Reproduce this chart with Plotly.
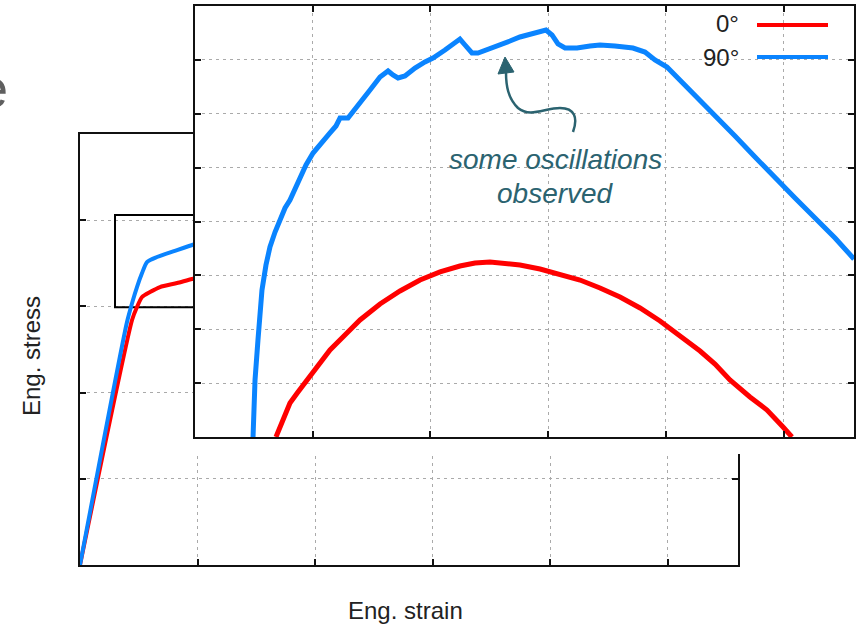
import plotly.graph_objects as go

W, H = 858, 627

# ---------------- data ----------------
# main plot (full curves, arbitrary units)
main_x_blue = [0, 0.400, 0.451, 0.485, 0.528, 0.570, 0.655, 0.826, 0.979, 1.149]
main_y_blue = [0, 2.819, 3.074, 3.225, 3.387, 3.515, 3.573, 3.654, 3.724, 3.794]
main_x_red = [0, 0.443, 0.485, 0.528, 0.596, 0.681, 0.826, 0.953, 1.149]
main_y_red = [0, 2.842, 2.993, 3.109, 3.167, 3.225, 3.271, 3.318, 3.376]

# inset (zoomed region)
inset_x_blue = [0.493, 0.501, 0.510, 0.535, 0.569, 0.603, 0.637, 0.680, 0.722, 0.765,
                0.807, 0.850, 0.892, 0.943, 1.003, 1.062, 1.147, 1.198, 1.232, 1.300,
                1.342, 1.402, 1.487, 1.572, 1.640, 1.682, 1.725, 1.784, 1.869, 1.954,
                2.022, 2.124, 2.209, 2.251, 2.294, 2.353, 2.404, 2.506, 2.591, 2.676,
                2.761, 2.846, 2.931, 2.982, 3.033, 3.084, 3.144, 3.246, 3.356, 3.441,
                3.568, 3.721, 3.823, 3.908, 4.010, 4.146, 4.291, 4.435, 4.588, 4.758,
                4.928, 5.098, 5.268, 5.438, 5.599]
inset_y_blue = [0.000, 0.687, 1.058, 1.800, 2.729, 3.193, 3.527, 3.805, 4.028, 4.251,
                4.399, 4.622, 4.826, 5.049, 5.271, 5.439, 5.643, 5.773, 5.921, 5.921,
                6.032, 6.200, 6.441, 6.682, 6.794, 6.719, 6.664, 6.701, 6.849, 6.961,
                7.035, 7.183, 7.313, 7.387, 7.276, 7.128, 7.128, 7.220, 7.276, 7.350,
                7.425, 7.480, 7.536, 7.555, 7.462, 7.295, 7.220, 7.220, 7.258, 7.276,
                7.258, 7.220, 7.146, 6.998, 6.868, 6.571, 6.255, 5.940, 5.587, 5.197,
                4.807, 4.436, 4.065, 3.694, 3.304]
inset_x_red = [0.688, 0.722, 0.765, 0.807, 0.875, 0.952, 1.045, 1.147, 1.274, 1.402,
               1.572, 1.742, 1.912, 2.082, 2.251, 2.379, 2.506, 2.634, 2.761, 2.931,
               3.101, 3.271, 3.441, 3.611, 3.781, 3.951, 4.121, 4.291, 4.418, 4.545,
               4.715, 4.860, 4.996, 5.072]
inset_y_red = [0.000, 0.186, 0.408, 0.631, 0.835, 1.058, 1.336, 1.615, 1.893, 2.172,
               2.469, 2.710, 2.914, 3.063, 3.174, 3.230, 3.248, 3.230, 3.193, 3.118,
               3.026, 2.914, 2.766, 2.599, 2.394, 2.153, 1.875, 1.596, 1.355, 1.058,
               0.742, 0.501, 0.186, 0.000]

series_names = ["0°", "90°"]
x_title = "Eng. strain"
y_title = "Eng. stress"
note_lines = ["some oscillations", "observed"]

RED = "#FF0000"
BLUE = "#0A84FF"
TEAL = "#2B6370"
FONT = "Liberation Sans, Arial, sans-serif"


def px(x):
    return x / W


def py(y):
    return 1 - y / H


fig = go.Figure()

fig.add_trace(go.Scatter(x=main_x_red, y=main_y_red, mode="lines",
                         line=dict(color=RED, width=4, shape="spline", smoothing=0.6),
                         xaxis="x", yaxis="y", showlegend=False))
fig.add_trace(go.Scatter(x=main_x_blue, y=main_y_blue, mode="lines",
                         line=dict(color=BLUE, width=4, shape="spline", smoothing=0.6),
                         xaxis="x", yaxis="y", showlegend=False))
fig.add_trace(go.Scatter(x=inset_x_red, y=inset_y_red, mode="lines",
                         line=dict(color=RED, width=5), xaxis="x2", yaxis="y2",
                         name=series_names[0], showlegend=False))
fig.add_trace(go.Scatter(x=inset_x_blue, y=inset_y_blue, mode="lines",
                         line=dict(color=BLUE, width=5), xaxis="x2", yaxis="y2",
                         name=series_names[1], showlegend=False))

grid = dict(showgrid=True, gridcolor="#AAAAAA", gridwidth=1, griddash="3px,4px",
            showline=True, linecolor="#111111", linewidth=1.5, mirror="allticks",
            ticks="inside", ticklen=6, tickwidth=1.5, tickcolor="#111111",
            showticklabels=False, zeroline=False, dtick=1, tick0=0)

fig.update_layout(
    width=W, height=H,
    margin=dict(l=0, r=0, t=0, b=0),
    paper_bgcolor="white", plot_bgcolor="white",
    xaxis=dict(domain=[px(80), px(738)], range=[0, 5.6], **grid, anchor="y"),
    yaxis=dict(domain=[py(565), py(134)], range=[0, 5], **grid, anchor="x"),
    xaxis2=dict(domain=[px(195), px(854)], range=[0, 5.599], **grid, anchor="y2"),
    yaxis2=dict(domain=[py(437), py(6)], range=[0, 8], **grid, anchor="x2"),
    showlegend=False,
)

shapes = []
# zoom box in main plot
shapes.append(dict(type="rect", xref="x", yref="y", x0=0.298, x1=1.3, y0=2.99, y1=4.06,
                   line=dict(color="black", width=2), fillcolor="rgba(0,0,0,0)",
                   layer="between"))
# white margin under inset
shapes.append(dict(type="rect", xref="paper", yref="paper", x0=px(196), x1=px(745),
                   y0=py(454), y1=py(439), line=dict(width=0), fillcolor="white",
                   layer="above"))
# legend lines
shapes.append(dict(type="line", xref="paper", yref="paper", x0=px(757), x1=px(828),
                   y0=py(25), y1=py(25), line=dict(color=RED, width=4)))
shapes.append(dict(type="line", xref="paper", yref="paper", x0=px(757), x1=px(828),
                   y0=py(57), y1=py(57), line=dict(color=BLUE, width=4)))


def path_from(cmds):
    out = []
    for c in cmds:
        if isinstance(c, str):
            out.append(c)
        else:
            out.append(f"{px(c[0]):.5f},{py(c[1]):.5f}")
    return " ".join(out)


arrow_path = path_from(["M", (573, 132), "C", (578, 118), (575, 108), (560, 108),
                        "C", (545, 108), (530, 118), (518, 108),
                        "C", (508, 98), (506, 86), (506, 72)])
shapes.append(dict(type="path", xref="paper", yref="paper", path=arrow_path,
                   line=dict(color=TEAL, width=2.5)))
head_path = path_from(["M", (505, 57), "L", (498, 74), "L", (514, 72), "Z"])
shapes.append(dict(type="path", xref="paper", yref="paper", path=head_path,
                   line=dict(color=TEAL, width=1), fillcolor=TEAL))

fig.update_layout(shapes=shapes)

ann = []
ann.append(dict(text=series_names[0], x=px(741), y=py(24), xref="paper", yref="paper",
                xanchor="right", yanchor="middle", showarrow=False,
                font=dict(family=FONT, size=24, color="#222222")))
ann.append(dict(text=series_names[1], x=px(741), y=py(57), xref="paper", yref="paper",
                xanchor="right", yanchor="middle", showarrow=False,
                font=dict(family=FONT, size=24, color="#222222")))
ann.append(dict(text=x_title, x=px(405), y=py(610), xref="paper", yref="paper",
                xanchor="center", yanchor="middle", showarrow=False,
                font=dict(family=FONT, size=24, color="#222222")))
ann.append(dict(text=y_title, x=px(31), y=py(356), xref="paper", yref="paper",
                xanchor="center", yanchor="middle", showarrow=False, textangle=-90,
                font=dict(family=FONT, size=24, color="#222222")))
ann.append(dict(text=f"<i>{note_lines[0]}</i>", x=px(555), y=py(160), xref="paper",
                yref="paper", xanchor="center", yanchor="middle", showarrow=False,
                font=dict(family=FONT, size=28, color=TEAL)))
ann.append(dict(text=f"<i>{note_lines[1]}</i>", x=px(555), y=py(193), xref="paper",
                yref="paper", xanchor="center", yanchor="middle", showarrow=False,
                font=dict(family=FONT, size=28, color=TEAL)))
ann.append(dict(text="e", x=px(10), y=py(88), xref="paper", yref="paper",
                xanchor="right", yanchor="middle", showarrow=False,
                font=dict(family=FONT, size=54, color="#5F5F5F")))
fig.update_layout(annotations=ann)

fig.write_html("out.html")
